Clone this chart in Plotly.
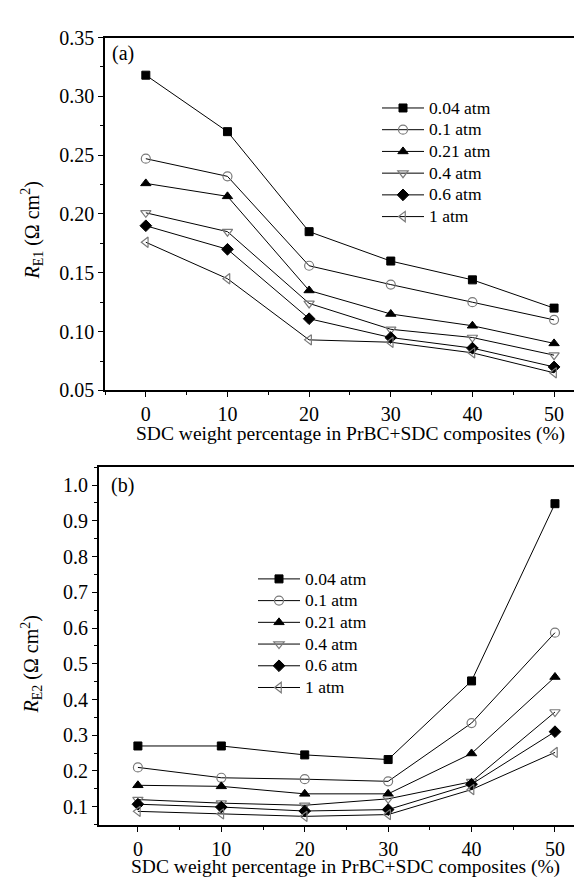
import plotly.graph_objects as go

x_vals = [0, 10, 20, 30, 40, 50]
labels = ["0.04 atm", "0.1 atm", "0.21 atm", "0.4 atm", "0.6 atm", "1 atm"]

# Panel (a): R_E1
re1_004 = [0.318, 0.270, 0.185, 0.160, 0.144, 0.120]
re1_01 = [0.247, 0.232, 0.156, 0.140, 0.125, 0.110]
re1_021 = [0.226, 0.215, 0.135, 0.115, 0.105, 0.090]
re1_04 = [0.201, 0.185, 0.124, 0.102, 0.095, 0.080]
re1_06 = [0.190, 0.170, 0.111, 0.095, 0.086, 0.070]
re1_1 = [0.176, 0.145, 0.093, 0.091, 0.082, 0.065]

# Panel (b): R_E2
re2_004 = [0.270, 0.270, 0.245, 0.232, 0.452, 0.948]
re2_01 = [0.210, 0.181, 0.177, 0.171, 0.334, 0.587]
re2_021 = [0.160, 0.157, 0.136, 0.136, 0.249, 0.463]
re2_04 = [0.120, 0.110, 0.104, 0.122, 0.170, 0.365]
re2_06 = [0.107, 0.099, 0.088, 0.092, 0.163, 0.310]
re2_1 = [0.087, 0.080, 0.073, 0.078, 0.148, 0.252]

series_a = [re1_004, re1_01, re1_021, re1_04, re1_06, re1_1]
series_b = [re2_004, re2_01, re2_021, re2_04, re2_06, re2_1]

GRAY = "#7a7a7a"
styles = [
    dict(symbol="square", color="black", line=dict(color="black", width=1), size=8),
    dict(symbol="circle-open", color=GRAY, line=dict(color=GRAY, width=1.2), size=9),
    dict(symbol="triangle-up", color="black", line=dict(color="black", width=1), size=9),
    dict(symbol="triangle-down-open", color=GRAY, line=dict(color=GRAY, width=1.2), size=9),
    dict(symbol="diamond", color="black", line=dict(color="black", width=1), size=9),
    dict(symbol="triangle-left-open", color=GRAY, line=dict(color=GRAY, width=1.2), size=9),
]

FONT = "Liberation Serif"
W, H = 582, 879
LEG_TXT = 17.5

def leg_name(s):
    return "<span style='font-size:%spx'>%s</span>" % (LEG_TXT, s)

fig = go.Figure()
for lab, ys, st in zip(labels, series_a, styles):
    fig.add_trace(go.Scatter(x=x_vals, y=ys, name=leg_name(lab), mode="lines+markers",
                             line=dict(color="black", width=1), marker=st,
                             xaxis="x", yaxis="y", legend="legend"))
for lab, ys, st in zip(labels, series_b, styles):
    fig.add_trace(go.Scatter(x=x_vals, y=ys, name=leg_name(lab), mode="lines+markers",
                             line=dict(color="black", width=1), marker=st,
                             xaxis="x2", yaxis="y2", legend="legend2"))

def py(px):
    return (H - px) / H

def pxx(px):
    return px / W

axis_common = dict(showline=True, linecolor="black", linewidth=1.5, ticks="outside",
                   ticklen=5, tickwidth=1.2, tickcolor="black", showgrid=False,
                   zeroline=False, tickfont=dict(family=FONT, size=20, color="black"))

def minor(d):
    return dict(dtick=d, ticks="outside", ticklen=3, tickwidth=1, tickcolor="black", showgrid=False)

xtitle = "SDC weight percentage in PrBC+SDC composites (%)"

def ann(text, x, y, size=20, angle=0, xanchor="center"):
    return dict(text=text, x=pxx(x), y=py(y), xref="paper", yref="paper",
                xanchor=xanchor, yanchor="middle", showarrow=False, textangle=angle,
                font=dict(family=FONT, size=size, color="black"))

fig.update_layout(
    width=W, height=H, margin=dict(l=0, r=0, t=0, b=0),
    paper_bgcolor="white", plot_bgcolor="white",
    font=dict(family=FONT, color="black"),
    showlegend=True,
    xaxis=dict(domain=[pxx(97), 1.0], range=[-5.0, 54.4], anchor="y",
               tick0=0, dtick=10, minor=minor(5), mirror=True, **axis_common),
    yaxis=dict(domain=[py(381), py(19)], range=[0.05, 0.35], anchor="x",
               tick0=0.05, dtick=0.05, tickformat=".2f", minor=minor(0.025),
               **axis_common),
    xaxis2=dict(domain=[pxx(90.7), 1.0], range=[-4.7, 54.2], anchor="y2",
                tick0=0, dtick=10, minor=minor(5), mirror=True, **axis_common),
    yaxis2=dict(domain=[py(827), py(459)], range=[0.048, 1.052], anchor="x2",
                tick0=0.1, dtick=0.1, tickformat=".1f", minor=minor(0.05),
                **axis_common),
    legend=dict(x=pxx(369), y=py(75), xanchor="left", yanchor="top",
                bgcolor="rgba(0,0,0,0)", font=dict(family=FONT, size=14.4),
                itemwidth=42, tracegroupgap=0),
    legend2=dict(x=pxx(245), y=py(558), xanchor="left", yanchor="top",
                 bgcolor="rgba(0,0,0,0)", font=dict(family=FONT, size=14.4),
                 itemwidth=42, tracegroupgap=0),
    annotations=[
        ann("(a)", 102, 35, xanchor="left"),
        ann("(b)", 101, 478, xanchor="left"),
        ann(xtitle, 342, 425.5, size=19.5),
        ann(xtitle, 337, 869.5, size=19.5),
        ann("<i>R</i><sub>E1</sub> (Ω cm<sup>2</sup>)", 24, 217, angle=-90),
        ann("<i>R</i><sub>E2</sub> (Ω cm<sup>2</sup>)", 24, 662, angle=-90),
    ],
)

fig.write_html("out.html")
